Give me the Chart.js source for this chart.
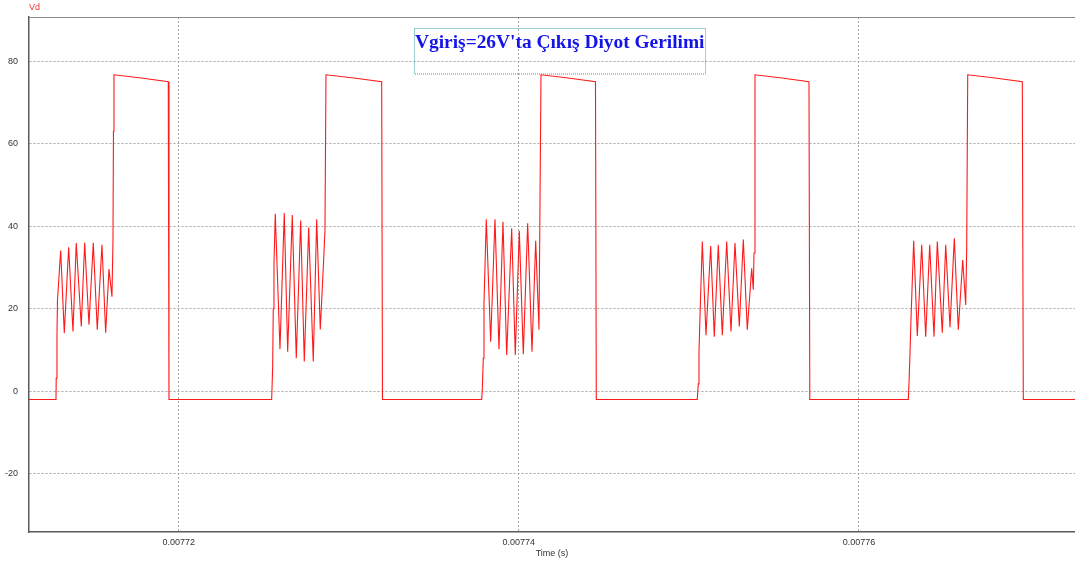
<!DOCTYPE html>
<html><head><meta charset="utf-8">
<script src="https://cdn.jsdelivr.net/npm/chart.js@4.4.1/dist/chart.umd.min.js"></script>
<style>html,body{margin:0;padding:0;background:#fff;overflow:hidden}</style>
</head><body>
<canvas id="c" width="1075" height="567"></canvas>
<script>
// Time values (s) and Vd values (V), one small array pair per switching cycle
const cycle1Time = [0.007711200,0.007712786,0.007712800,0.007712844,0.007712874,0.007713062,0.007713274,0.007713532,0.007713785,0.007713979,0.007714273,0.007714473,0.007714726,0.007714979,0.007715214,0.007715490,0.007715708,0.007715902,0.007716078,0.007716137,0.007716166,0.007716196,0.007717800,0.007719389,0.007719430];
const cycle1Vd   = [-2,-2,3.2,13.2,22,34.1,14.1,34.9,14.5,35.9,15.7,36.0,16.1,36.0,14.9,35.5,14.2,29.6,22.9,36.4,63,76.7,75.9,75.0,-2];

const cycle2Time = [0.007725468,0.007725527,0.007725562,0.007725603,0.007725680,0.007725956,0.007726209,0.007726409,0.007726679,0.007726915,0.007727173,0.007727385,0.007727644,0.007727914,0.007728114,0.007728326,0.007728502,0.007728602,0.007728661,0.007730300,0.007731936,0.007731983];
const cycle2Vd   = [-2,6,20,30.9,43.0,10.2,43.2,9.6,42.7,8.0,41.4,7.2,39.7,7.2,41.7,15.0,29.9,39,76.7,75.9,75.0,-2];

const cycle3Time = [0.007737816,0.007737851,0.007737910,0.007737951,0.007738086,0.007738345,0.007738598,0.007738833,0.007739068,0.007739286,0.007739580,0.007739791,0.007740027,0.007740262,0.007740520,0.007740773,0.007740991,0.007741185,0.007741244,0.007741303,0.007742900,0.007744507,0.007744554];
const cycle3Vd   = [-2,0.3,8,21.4,41.7,12.0,41.7,10.2,41.1,8.8,39.5,8.8,38.9,9.0,40.7,9.6,36.5,14.9,45.6,76.7,75.9,75.0,-2];

const cycle4Time = [0.007750492,0.007750551,0.007750592,0.007750651,0.007750787,0.007751004,0.007751280,0.007751492,0.007751727,0.007751963,0.007752221,0.007752474,0.007752709,0.007752962,0.007753197,0.007753432,0.007753691,0.007753786,0.007753827,0.007753885,0.007755470,0.007757060,0.007757107];
const cycle4Vd   = [-2,1.8,9.4,18.1,36.3,13.6,35.2,13.2,35.5,13.6,36.3,14.5,35.9,15.7,36.8,14.9,29.8,24.6,33.5,76.7,75.9,75.0,-2];

const cycle5Time = [0.007762899,0.007762940,0.007762999,0.007763058,0.007763216,0.007763428,0.007763687,0.007763922,0.007764157,0.007764410,0.007764604,0.007764898,0.007765098,0.007765351,0.007765604,0.007765839,0.007766098,0.007766274,0.007766333,0.007766392,0.007768000,0.007769602,0.007769661,0.007772701];
const cycle5Vd   = [-2,1.9,9.2,17.7,36.5,13.4,35.5,13.2,35.5,13.2,36.3,14.2,35.5,15.5,37.1,14.9,31.8,20.9,34.7,76.7,75.9,75.0,-2,-2];

const xTickValues = [0.00772, 0.00774, 0.00776];
const yTickValues = [-20, 0, 20, 40, 60, 80];
const xRange = [0.0077112, 0.0077727];
const yRange = [-34.1, 90.7];
const titleText = "Vgiriş=26V'ta Çıkış Diyot Gerilimi";
const seriesName = "Vd";
const xAxisName = "Time (s)";

const allTime = [].concat(cycle1Time, cycle2Time, cycle3Time, cycle4Time, cycle5Time);
const allVd = [].concat(cycle1Vd, cycle2Vd, cycle3Vd, cycle4Vd, cycle5Vd);
const points = allTime.map((t, i) => ({x: t, y: allVd[i]}));

const FONT = '"Liberation Sans", Arial, sans-serif';

const decorPlugin = {
  id: 'decor',
  afterDraw(chart) {
    const ctx = chart.ctx, a = chart.chartArea;
    ctx.save();
    // top frame line
    ctx.strokeStyle = '#8a8a8a'; ctx.lineWidth = 1; ctx.setLineDash([]);
    ctx.beginPath(); ctx.moveTo(a.left, a.top + 0.5); ctx.lineTo(a.right, a.top + 0.5); ctx.stroke();
    // series label
    ctx.fillStyle = '#ff3030'; ctx.font = '9px ' + FONT; ctx.textBaseline = 'middle'; ctx.textAlign = 'left';
    ctx.fillText(seriesName, 29, 8);
    // title box
    ctx.strokeStyle = '#3aa0a0'; ctx.setLineDash([1, 1]);
    ctx.strokeRect(414.5, 28.5, 291, 45.5);
    ctx.setLineDash([]);
    ctx.fillStyle = '#1414e6'; ctx.font = 'bold 19.4px "Liberation Serif", "Times New Roman", serif';
    ctx.textBaseline = 'alphabetic'; ctx.textAlign = 'left';
    ctx.fillText(titleText, 415, 47.5);
    ctx.restore();
  }
};

new Chart(document.getElementById('c'), {
  type: 'scatter',
  data: { datasets: [{
    label: seriesName, data: points, showLine: true, pointRadius: 0,
    borderColor: '#ff1a1a', borderWidth: 1.1, tension: 0, fill: false
  }]},
  options: {
    responsive: false, animation: false, devicePixelRatio: 1,
    layout: { padding: { left: 0, right: 0, top: 17, bottom: 0 } },
    plugins: { legend: { display: false }, tooltip: { enabled: false }, title: { display: false } },
    scales: {
      x: {
        type: 'linear', min: xRange[0], max: xRange[1],
        afterBuildTicks: s => { s.ticks = xTickValues.map(v => ({ value: v })); },
        afterFit: s => { s.height = 35; },
        grid: { color: '#a6a6a6', lineWidth: 1, drawTicks: false },
        border: { color: '#5a5a5a', width: 1.5, dash: [2, 2] },
        ticks: { color: '#333', font: { size: 9, family: FONT }, padding: 5, maxRotation: 0,
                 callback: v => String(v) },
        title: { display: true, text: xAxisName, color: '#333', font: { size: 9, family: FONT }, padding: { top: 0, bottom: 8 } }
      },
      y: {
        type: 'linear', min: yRange[0], max: yRange[1],
        afterBuildTicks: s => { s.ticks = yTickValues.map(v => ({ value: v })); },
        afterFit: s => { s.width = 29; },
        grid: { color: '#a6a6a6', lineWidth: 1, drawTicks: false },
        border: { color: '#5a5a5a', width: 1.5, dash: [2, 2] },
        ticks: { color: '#333', font: { size: 9, family: FONT }, padding: 11 }
      }
    }
  },
  plugins: [decorPlugin]
});
</script>
</body></html>
